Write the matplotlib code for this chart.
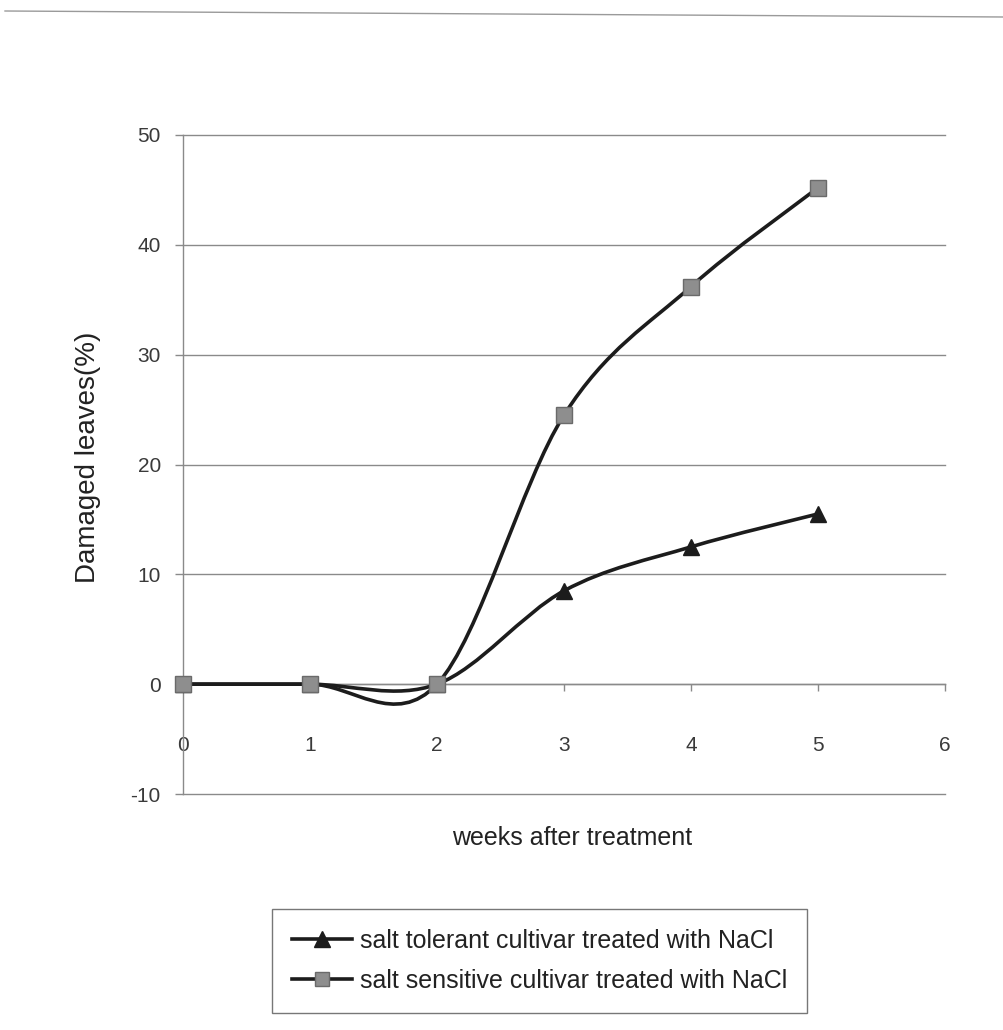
import numpy as np
import matplotlib
matplotlib.use("Agg")
import matplotlib.pyplot as plt
from matplotlib.path import Path
from matplotlib.patches import PathPatch
from matplotlib.lines import Line2D

plt.rcParams['font.family'] = ['Liberation Sans', 'DejaVu Sans']

weeks = [0, 1, 2, 3, 4, 5]
tolerant = [0, 0, 0, 8.5, 12.5, 15.5]
sensitive = [0, 0, 0, 24.5, 36.2, 45.2]
labels = ["salt tolerant cultivar treated with NaCl",
          "salt sensitive cultivar treated with NaCl"]
xticks = [0, 1, 2, 3, 4, 5, 6]
yticks = [-10, 0, 10, 20, 30, 40, 50]

W, H = 1004, 1030
fig = plt.figure(figsize=(W / 100, H / 100), dpi=100)
ax = fig.add_axes([183 / W, 1 - 794 / H, (945 - 183) / W, (794 - 135) / H])
ax.set_xlim(0, 6)
ax.set_ylim(-10, 50)

def smooth_path(xs, ys):
    p = np.column_stack([xs, ys]).astype(float)
    n = len(p)
    verts = [p[0]]
    codes = [Path.MOVETO]
    for i in range(n - 1):
        pm = p[i - 1] if i > 0 else p[i]
        pp = p[i + 2] if i + 2 < n else p[i + 1]
        c1 = p[i] + (p[i + 1] - pm) / 6.0
        c2 = p[i + 1] - (pp - p[i]) / 6.0
        verts += [c1, c2, p[i + 1]]
        codes += [Path.CURVE4] * 3
    return Path(verts, codes)

line_col = '#1c1c1c'
for ys in (tolerant, sensitive):
    patch = PathPatch(smooth_path(weeks, ys), facecolor='none', edgecolor=line_col,
                      lw=2.6, zorder=3, capstyle='round', joinstyle='round')
    ax.add_patch(patch)

ax.plot(weeks, tolerant, linestyle='none', marker='^', markersize=11,
        markerfacecolor='#1c1c1c', markeredgecolor='#1c1c1c', zorder=4, clip_on=False)
ax.plot(weeks, sensitive, linestyle='none', marker='s', markersize=11,
        markerfacecolor='#8e8e8e', markeredgecolor='#6a6a6a', markeredgewidth=1.0,
        zorder=5, clip_on=False)

grid_col = '#8a8a8a'
for yv in yticks:
    ax.axhline(yv, color=grid_col, lw=1.0, zorder=1, clip_on=False)

ax.spines['top'].set_visible(False)
ax.spines['right'].set_visible(False)
ax.spines['left'].set_color(grid_col)
ax.spines['left'].set_linewidth(1.0)
ax.spines['bottom'].set_position(('data', 0))
ax.spines['bottom'].set_color(grid_col)
ax.spines['bottom'].set_linewidth(1.0)

ax.set_xticks(xticks)
ax.set_xticklabels([str(v) for v in xticks])
ax.set_yticks(yticks)
ax.set_yticklabels([str(v) for v in yticks])
ax.tick_params(axis='y', direction='out', length=6, width=1, color=grid_col,
               labelsize=15, labelcolor='#3a3a3a', pad=10)
ax.tick_params(axis='x', direction='out', length=5, width=1, color=grid_col,
               labelsize=15, labelcolor='#3a3a3a', pad=32)

fig.text(88 / W, 1 - 457 / H, "Damaged leaves(%)", fontsize=20, rotation=90,
         color='#222222', ha='center', va='center')
fig.text(572 / W, 1 - 838 / H, "weeks after treatment", fontsize=18,
         color='#222222', ha='center', va='center')

# scan artifact line at the top
fig.add_artist(Line2D([5 / W, 1.0], [1 - 11 / H, 1 - 17 / H], color='#9a9a9a', lw=1.0,
                      transform=fig.transFigure))

handles = [
    Line2D([], [], color=line_col, lw=2.6, marker='^', markersize=11,
           markerfacecolor='#1c1c1c', markeredgecolor='#1c1c1c'),
    Line2D([], [], color=line_col, lw=2.6, marker='s', markersize=10,
           markerfacecolor='#8e8e8e', markeredgecolor='#6a6a6a'),
]
leg = fig.legend(handles, labels, loc='upper left', bbox_to_anchor=(272 / W, 1 - 909 / H),
                 fontsize=18, frameon=True, fancybox=False, shadow=False,
                 handlelength=2.4, handletextpad=0.32, labelspacing=0.64,
                 borderpad=0.8, borderaxespad=0)
leg.get_frame().set_edgecolor('#555555')
leg.get_frame().set_linewidth(1.0)
for t in leg.get_texts():
    t.set_color('#222222')

fig.savefig("out.png", dpi=100, facecolor='white')
